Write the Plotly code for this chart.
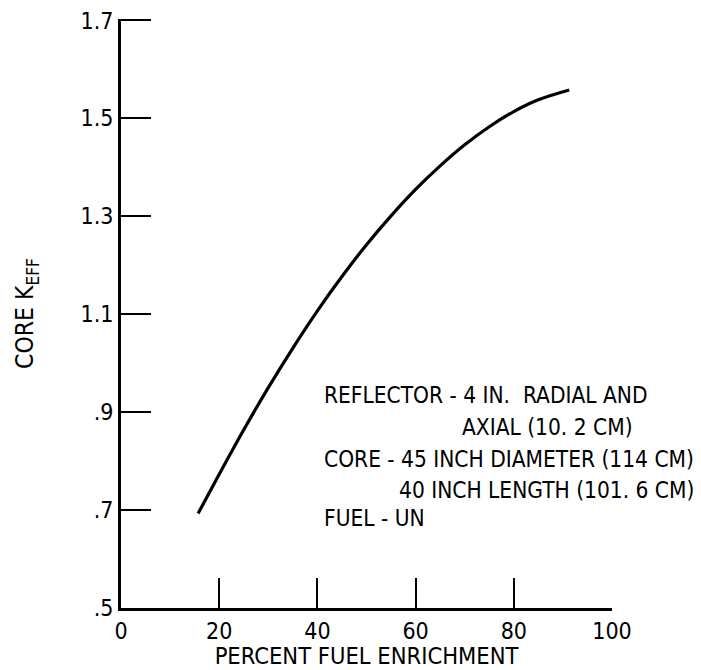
import plotly.graph_objects as go

# Data
enrichment = [15.7, 20, 25, 30, 35, 40, 45, 50, 55, 60, 65, 70, 75, 80, 85, 91.3]
keff = [0.693, 0.773, 0.864, 0.950, 1.031, 1.107, 1.177, 1.242, 1.301, 1.355,
        1.403, 1.446, 1.483, 1.514, 1.538, 1.558]

x_ticks = [0, 20, 40, 60, 80, 100]
x_tick_labels = ["0", "20", "40", "60", "80", "100"]
y_ticks = [0.5, 0.7, 0.9, 1.1, 1.3, 1.5, 1.7]
y_tick_labels = [".5", ".7", ".9", "1.1", "1.3", "1.5", "1.7"]

notes = [
    ("REFLECTOR - 4 IN.  RADIAL AND", 40.9, 0.935),
    ("AXIAL (10. 2 CM)", 69.0, 0.870),
    ("CORE - 45 INCH DIAMETER (114 CM)", 40.9, 0.805),
    ("40 INCH LENGTH (101. 6 CM)", 56.2, 0.742),
    ("FUEL - UN", 40.9, 0.683),
]

FONT = "Liberation Sans Narrow, DejaVu Sans Condensed, Arial Narrow, sans-serif"

fig = go.Figure()
fig.add_trace(go.Scatter(
    x=enrichment, y=keff, mode="lines",
    line=dict(color="black", width=3.2, shape="spline", smoothing=1.0),
    showlegend=False, hoverinfo="skip",
))

for text, xv, yv in notes:
    fig.add_annotation(x=xv, y=yv, xref="x", yref="y", text=text,
                       showarrow=False, xanchor="left", yanchor="middle",
                       font=dict(family=FONT, size=22.5, color="black"))

# page body adds an 8px offset, so the figure is 8px smaller than the window
fig.update_layout(
    width=693, height=662,
    margin=dict(l=113, r=89, t=11, b=62, autoexpand=False),
    paper_bgcolor="white", plot_bgcolor="white",
    font=dict(family=FONT, size=22, color="black"),
    showlegend=False,
)
fig.update_xaxes(
    range=[0, 100], tickvals=x_ticks, ticktext=x_tick_labels,
    ticks="inside", ticklen=30, tickwidth=2, tickcolor="black",
    showline=True, linecolor="black", linewidth=3,
    showgrid=False, zeroline=False, automargin=False,
    ticklabeloverflow="allow",
    title=dict(text="PERCENT FUEL ENRICHMENT", standoff=8,
               font=dict(family=FONT, size=23.5)),
    tickfont=dict(family=FONT, size=23),
)
fig.update_yaxes(
    range=[0.5, 1.703], tickvals=y_ticks, ticktext=y_tick_labels,
    ticks="inside", ticklen=30, tickwidth=2, tickcolor="black",
    showline=True, linecolor="black", linewidth=3,
    showgrid=False, zeroline=False, automargin=False,
    ticklabeloverflow="allow",
    title=dict(text="CORE K<sub>EFF</sub>", standoff=40,
               font=dict(family=FONT, size=24.5)),
    tickfont=dict(family=FONT, size=23),
)

fig.write_html("out.html")
